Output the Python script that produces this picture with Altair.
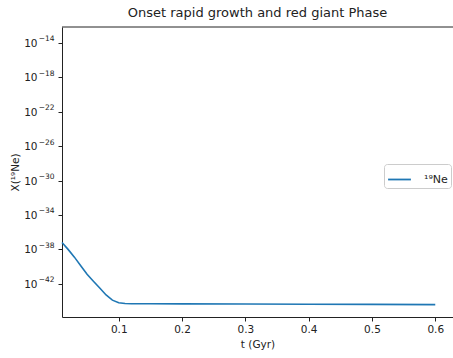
import altair as alt
import pandas as pd

t_gyr = [0.0104, 0.02, 0.03, 0.04, 0.05, 0.06, 0.07, 0.08, 0.09, 0.10,
         0.11, 0.12, 0.15, 0.20, 0.30, 0.40, 0.50, 0.60]
x_ne19 = [6.3e-38, 1.0e-38, 1.26e-39, 1.26e-40, 1.26e-41, 2.0e-42, 3.2e-43,
          5.0e-44, 1.26e-44, 6.3e-45, 5.2e-45, 4.8e-45, 4.7e-45, 4.6e-45,
          4.4e-45, 4.2e-45, 4.0e-45, 3.8e-45]
series_name = "¹⁹Ne"

y_tick_vals = [1e-14, 1e-18, 1e-22, 1e-26, 1e-30, 1e-34, 1e-38, 1e-42]
y_tick_exps = ["−14", "−18", "−22", "−26", "−30", "−34", "−38", "−42"]
x_tick_vals = [0.1, 0.2, 0.3, 0.4, 0.5, 0.6]

df = pd.DataFrame({"t": t_gyr, "X": x_ne19, "series": [series_name] * len(t_gyr)})
ticks_df = pd.DataFrame({"v": y_tick_vals, "base": ["10"] * len(y_tick_vals), "exp": y_tick_exps})

FONT = "DejaVu Sans"
INK = "#222222"
W, H = 391, 290
xdom = [0.0104, 0.628]
ydom = [10 ** -45.86, 10 ** -12.15]

yscale = alt.Scale(type="log", domain=ydom, nice=False)

line = alt.Chart(df).mark_line(strokeWidth=1.6).encode(
    x=alt.X("t:Q", scale=alt.Scale(domain=xdom, nice=False, zero=False),
            axis=alt.Axis(values=x_tick_vals, format=".1f", title="t (Gyr)",
                          grid=False, tickSize=4, labelPadding=3, titlePadding=5)),
    y=alt.Y("X:Q", scale=yscale,
            axis=alt.Axis(values=y_tick_vals, labels=False, title="X(¹⁹Ne)",
                          grid=False, tickSize=4, titlePadding=37)),
    color=alt.Color("series:N", scale=alt.Scale(range=["#1f77b4"]),
                    legend=alt.Legend(title=None, orient="none", legendX=322, legendY=137,
                                      symbolType="stroke", symbolSize=520, symbolStrokeWidth=1.8,
                                      labelFontSize=11, labelFont=FONT, labelColor=INK,
                                      padding=3, strokeColor="#cccccc", fillColor="white",
                                      cornerRadius=3, labelOffset=12)),
)

lab_base = alt.Chart(ticks_df).mark_text(align="right", baseline="middle", fontSize=10.5,
                                         font=FONT, color=INK, dy=1).encode(
    x=alt.value(-24.5), y=alt.Y("v:Q", scale=yscale), text="base:N")
lab_exp = alt.Chart(ticks_df).mark_text(align="left", baseline="middle", fontSize=7.5,
                                        font=FONT, color=INK, dy=-3.5).encode(
    x=alt.value(-23.3), y=alt.Y("v:Q", scale=yscale), text="exp:N")

top_spine = alt.Chart(pd.DataFrame({"k": [0]})).mark_rule(color=INK, strokeWidth=1).encode(
    x=alt.value(0), x2=alt.value(W + 5), y=alt.value(0))

chart = alt.layer(line, lab_base, lab_exp, top_spine).properties(
    width=W, height=H, background="white",
    title=alt.TitleParams("Onset rapid growth and red giant Phase", fontSize=13,
                          font=FONT, fontWeight="normal", offset=7, color=INK),
    autosize=alt.AutoSizeParams(type="none"),
    padding={"left": 62, "top": 27, "right": 0, "bottom": 41},
).configure_view(stroke=None).configure_axis(
    labelFont=FONT, titleFont=FONT, labelFontSize=10.5, titleFontSize=10.5,
    titleFontWeight="normal", domainColor=INK, tickColor=INK,
    labelColor=INK, titleColor=INK,
)

chart.save("out.html", embed_options={"renderer": "svg", "actions": False})
